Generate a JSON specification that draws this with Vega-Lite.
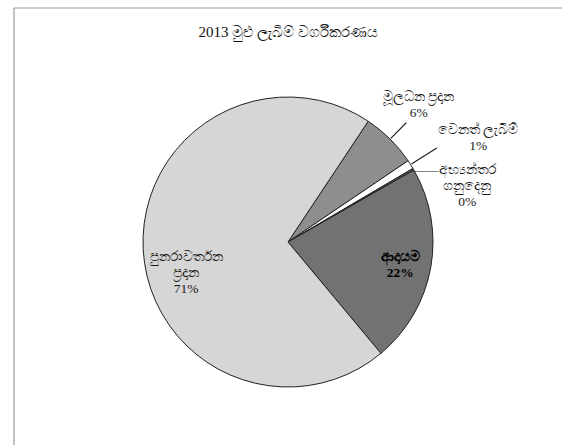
{
  "$schema": "https://vega.github.io/schema/vega-lite/v6.json",
  "width": 548,
  "height": 437,
  "autosize": {"type": "none"},
  "padding": {"left": 14, "top": 8, "right": 0, "bottom": 0},
  "background": "white",
  "config": {
    "view": {"stroke": null},
    "text": {"lineBreak": "\n", "font": "Liberation Serif", "fontSize": 13.5, "lineHeight": 16, "color": "#1a1a1a"}
  },
  "title": {
    "text": "2013 මුළු ලැබීම් වර්ගීකරණය",
    "font": "Liberation Serif",
    "fontSize": 15,
    "fontWeight": "normal",
    "color": "#111111",
    "anchor": "middle",
    "offset": -33
  },
  "data": {
    "values": [
      {"cat": "මූලධන ප්‍රදාන", "label": "මූලධන ප්‍රදාන\n6%", "value": 6.2, "order": 1},
      {"cat": "වෙනත් ලැබීම්", "label": "වෙනත් ලැබීම්\n1%", "value": 1.0, "order": 2},
      {"cat": "අභ්‍යන්තර ගනුදෙනු", "label": "අභ්‍යන්තර\nගනුදෙනු\n0%", "value": 0.2, "order": 3},
      {"cat": "ආදායම", "label": "ආදායම\n22%", "value": 22.2, "order": 4},
      {"cat": "පුනරාවර්තන ප්‍රදාන", "label": "පුනරාවර්තන\nප්‍රදාන\n71%", "value": 70.4, "order": 5}
    ]
  },
  "layer": [
    {
      "data": {"values": [{"frame": "top"}]},
      "mark": {"type": "rule", "color": "#9a9a9a", "strokeWidth": 1.2},
      "encoding": {"y": {"value": 0}}
    },
    {
      "data": {"values": [{"frame": "left"}]},
      "mark": {"type": "rule", "color": "#9a9a9a", "strokeWidth": 1.2},
      "encoding": {"x": {"value": 0}}
    },
    {
      "encoding": {
        "theta": {"field": "value", "type": "quantitative", "stack": true, "scale": {"range": [0.5864, 6.8696]}},
        "order": {"field": "order", "type": "quantitative"}
      },
      "layer": [
        {
          "mark": {"type": "arc", "radius": 145, "stroke": "#222222", "strokeWidth": 1, "yOffset": 15.5},
          "encoding": {
            "color": {
              "field": "cat",
              "type": "nominal",
              "scale": {
                "domain": ["මූලධන ප්‍රදාන", "වෙනත් ලැබීම්", "අභ්‍යන්තර ගනුදෙනු", "ආදායම", "පුනරාවර්තන ප්‍රදාන"],
                "range": ["#8e8e8e", "#ffffff", "#555555", "#727272", "#d6d6d6"]
              },
              "legend": null
            }
          }
        },
        {
          "mark": {"type": "arc", "radius": 168, "radius2": 146, "padAngle": 0.4, "fill": null, "strokeWidth": 1.2, "yOffset": 15.5},
          "encoding": {
            "stroke": {"condition": {"test": "datum.order == 1", "value": "#222222"}, "value": null}
          }
        },
        {
          "mark": {"type": "arc", "radius": 176, "radius2": 146, "padAngle": 0.4, "fill": null, "strokeWidth": 1.2, "yOffset": 15.5},
          "encoding": {
            "stroke": {"condition": {"test": "datum.order == 2", "value": "#222222"}, "value": null}
          }
        },
        {
          "mark": {"type": "text", "radius": 146, "dx": 11, "dy": 1, "yOffset": 15.5, "baseline": "middle", "align": "center", "fontSize": 13, "color": "#222222"},
          "encoding": {"text": {"condition": {"test": "datum.order == 3", "value": "――"}, "value": ""}}
        },
        {
          "mark": {"type": "text", "radius": 190, "dx": -3, "dy": -10, "yOffset": 15.5, "baseline": "middle", "align": "center"},
          "encoding": {"text": {"condition": {"test": "datum.order == 1", "field": "label"}, "value": ""}}
        },
        {
          "mark": {"type": "text", "radius": 218, "dx": 6, "dy": 4, "yOffset": 15.5, "baseline": "middle", "align": "center"},
          "encoding": {"text": {"condition": {"test": "datum.order == 2", "field": "label"}, "value": ""}}
        },
        {
          "mark": {"type": "text", "radius": 190, "dx": 15, "dy": 23, "yOffset": 15.5, "baseline": "middle", "align": "center"},
          "encoding": {"text": {"condition": {"test": "datum.order == 3", "field": "label"}, "value": ""}}
        },
        {
          "mark": {"type": "text", "radius": 114, "dx": 0, "dy": -5, "yOffset": 15.5, "baseline": "middle", "align": "center", "fontWeight": "bold", "color": "#000000"},
          "encoding": {"text": {"condition": {"test": "datum.order == 4", "field": "label"}, "value": ""}}
        },
        {
          "mark": {"type": "text", "radius": 107, "dx": 5, "dy": 9, "yOffset": 15.5, "baseline": "middle", "align": "center"},
          "encoding": {"text": {"condition": {"test": "datum.order == 5", "field": "label"}, "value": ""}}
        }
      ]
    }
  ]
}
